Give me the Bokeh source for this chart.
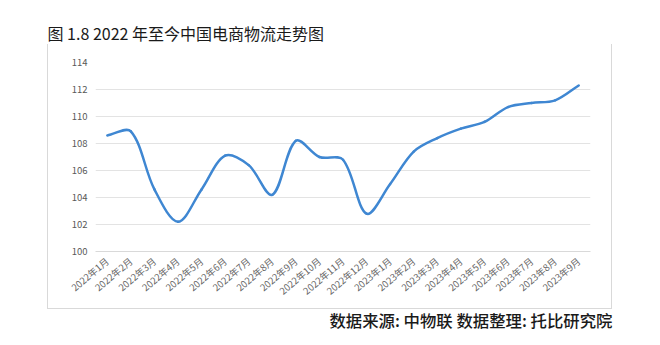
import numpy as np
from bokeh.plotting import figure
from bokeh.models import FixedTicker, ColumnDataSource, Title, InlineStyleSheet
from bokeh.embed import file_html
from bokeh.resources import INLINE

months = ["2022年1月", "2022年2月", "2022年3月", "2022年4月", "2022年5月", "2022年6月",
          "2022年7月", "2022年8月", "2022年9月", "2022年10月", "2022年11月", "2022年12月",
          "2023年1月", "2023年2月", "2023年3月", "2023年4月", "2023年5月", "2023年6月",
          "2023年7月", "2023年8月", "2023年9月"]
index_values = [108.6, 108.9, 104.6, 102.2, 104.6, 107.1, 106.4, 104.2, 108.2, 107.0, 106.8,
                102.8, 105.0, 107.4, 108.4, 109.1, 109.6, 110.7, 111.0, 111.2, 112.3]
y_ticks = [100, 102, 104, 106, 108, 110, 112, 114]

title_text = "图 1.8 2022 年至今中国电商物流走势图"
source_text = "数据来源: 中物联 数据整理: 托比研究院"

FONT = "Noto Sans CJK SC"
FONT_MED = "'Noto Sans CJK SC Medium', 'Noto Sans CJK SC'"

PLOT_W, PLOT_H = 495, 190
Y0, Y1 = 100, 114

frame_css = InlineStyleSheet(css="""
:host { position: relative; }
:host::after {
  content: "";
  position: absolute;
  left: 47px; top: 44px; width: 565px; height: 265px;
  box-sizing: border-box;
  border-left: 1.5px solid #d9d9d9;
  border-right: 1.5px solid #d9d9d9;
  border-bottom: 1.5px solid #d9d9d9;
  pointer-events: none;
  z-index: 5;
}
""")

n = len(months)
p = figure(width=660, height=345, output_backend="svg", toolbar_location=None,
           x_range=(-0.5, n - 0.5), y_range=(Y0, Y1),
           min_border_left=95, min_border_right=70, min_border_top=61, min_border_bottom=94,
           stylesheets=[frame_css])
p.outline_line_color = None
p.background_fill_color = "white"
p.border_fill_color = "white"

# Excel-style smoothed line: bezier segments whose handles scale with segment length
sx = PLOT_W / n
sy = PLOT_H / (Y1 - Y0)
x = np.arange(n, dtype=float)
y = np.array(index_values, dtype=float)
P = np.column_stack([x, y])
Pp = np.vstack([P[0], P, P[-1]])
seg = np.hypot(np.diff(Pp[:, 0]) * sx, np.diff(Pp[:, 1]) * sy)


def handle(i_prev, i, i_next, d_side, d_other):
    tot = d_side + d_other
    f = 0.0 if tot == 0 else d_side / tot / 3.0
    return (Pp[i_next] - Pp[i_prev]) * f


x0s, y0s, x1s, y1s, c0x, c0y, c1x, c1y = [], [], [], [], [], [], [], []
for k in range(n - 1):
    a, b = k + 1, k + 2
    h0 = handle(a - 1, a, a + 1, seg[a], seg[a - 1])
    h1 = handle(b - 1, b, b + 1, seg[b - 1], seg[b])
    x0s.append(Pp[a, 0]); y0s.append(Pp[a, 1])
    x1s.append(Pp[b, 0]); y1s.append(Pp[b, 1])
    c0x.append(Pp[a, 0] + h0[0]); c0y.append(Pp[a, 1] + h0[1])
    c1x.append(Pp[b, 0] - h1[0]); c1y.append(Pp[b, 1] - h1[1])

src = ColumnDataSource(dict(x0=x0s, y0=y0s, x1=x1s, y1=y1s, cx0=c0x, cy0=c0y, cx1=c1x, cy1=c1y))
p.bezier(x0="x0", y0="y0", x1="x1", y1="y1", cx0="cx0", cy0="cy0", cx1="cx1", cy1="cy1",
         source=src, line_color="#3f87d2", line_width=2.5, line_cap="round")

# axes
p.xaxis.ticker = FixedTicker(ticks=list(range(n)))
p.xaxis.major_label_overrides = {i: m for i, m in enumerate(months)}
p.xaxis.major_label_orientation = 0.7
p.xaxis.major_label_text_font = FONT
p.xaxis.major_label_text_font_size = "9.5px"
p.xaxis.major_label_text_color = "#666666"
p.xaxis.axis_line_color = "#d9d9d9"
p.xaxis.major_tick_line_color = None
p.xaxis.minor_tick_line_color = None
p.xaxis.major_label_standoff = 2

p.yaxis.ticker = FixedTicker(ticks=y_ticks)
p.yaxis.major_label_text_font = FONT
p.yaxis.major_label_text_font_size = "9.5px"
p.yaxis.major_label_text_color = "#595959"
p.yaxis.axis_line_color = None
p.yaxis.major_tick_line_color = None
p.yaxis.minor_tick_line_color = None
p.yaxis.major_label_standoff = 2

p.xgrid.grid_line_color = None
p.ygrid.ticker = FixedTicker(ticks=y_ticks)
p.ygrid.grid_line_color = "#e3e3e3"
p.ygrid.grid_line_width = 1

p.title.text = title_text
p.title.align = "left"
p.title.offset = -48
p.title.standoff = 36
p.title.text_font = FONT
p.title.text_font_size = "16px"
p.title.text_font_style = "normal"
p.title.text_color = "#1a1a1a"

src_title = Title(text=source_text, align="right", offset=-22, standoff=0,
                  text_font=FONT_MED, text_font_size="16.4px", text_font_style="normal",
                  text_color="#1a1a1a")
p.add_layout(src_title, "below")

open("out.html", "w").write(file_html(p, INLINE))
